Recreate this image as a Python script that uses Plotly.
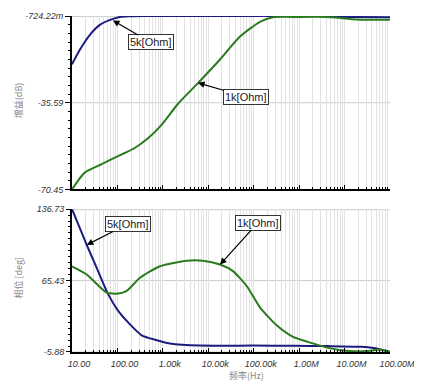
import plotly.graph_objects as go

# ---------------- data ----------------
freq_5k_gain = [10, 15, 25, 41, 69, 114, 190, 400, 1e3, 1e4, 1e5, 1e6, 3e6, 6e6, 1e7, 1e8]
gain_5k = [-20.1, -14.2, -8.2, -4.3, -2.3, -1.1, -0.85, -0.75, -0.73, -0.724, -0.724, -0.74, -0.76, -0.95, -1.1, -1.2]

freq_1k_gain = [10, 19, 44, 73, 145, 240, 471, 925, 2155, 5640, 18100, 49900, 137000, 265000,
                1e6, 4e6, 8e6, 1.5e7, 3e7, 1e8]
gain_1k = [-70.45, -63.7, -60.4, -58.4, -55.8, -53.8, -49.9, -44.6, -36.0, -28.1, -18.2, -9.0, -3.1, -1.24,
           -1.1, -1.1, -1.5, -2.0, -2.2, -2.2]

freq_5k_phase = [10, 21.1, 35, 62, 103, 189, 342, 672, 1436, 6560, 1e5, 7.3e5, 4.1e6, 2.2e7, 5.1e7, 1e8]
phase_5k = [136.73, 101, 78.1, 52.1, 35.4, 21.7, 10.8, 6.4, 2.7, 0.5, 0.5, 0.3, 0.0, -0.67, -2.3, -5.88]

freq_1k_phase = [10, 21.1, 58, 104.5, 160, 314, 865, 3350, 7650, 18100, 35000, 70000, 137000, 320000,
                 733000, 2.02e6, 4.1e6, 1.3e7, 3.1e7, 6.0e7, 1e8]
phase_1k = [79.7, 71.5, 53.4, 52.4, 55.1, 68.2, 79.7, 85.3, 85.3, 81.4, 74.8, 60, 38.7, 20.7,
            9.2, 2.7, -1.5, -5.0, -5.0, -3.5, -5.88]

x_tick_vals = [10, 100, 1e3, 1e4, 1e5, 1e6, 1e7, 1e8]
x_tick_text = ["10.00", "100.00", "1.00k", "10.00k", "100.00k", "1.00M", "10.00M", "100.00M"]

gain_tick_vals = [-70.45, -35.59, -0.72422]
gain_tick_text = ["-70.45", "-35.59", "-724.22m"]
phase_tick_vals = [-5.88, 65.43, 136.73]
phase_tick_text = ["-5.88", "65.43", "136.73"]

series_names = ["5k[Ohm]", "1k[Ohm]"]

# ---------------- style ----------------
BLUE = "#1c1c80"
GREEN = "#2a7a1e"
GRID = "#e2e2e2"
TICKFONT = dict(family="Liberation Sans, Arial, sans-serif", size=9, color="#333333", style="italic")

# page body has an 8px margin; figure is sized so it ends at the window edge
W, H = 414, 374
ML, MR, MT, MB = 64, 32, 3, 30
PW, PH = W - ML - MR, H - MT - MB


def px_x(px):  # window pixel -> paper x
    return (px - 8 - ML) / PW


def px_y(py):  # window pixel -> paper y
    return (H - MB - (py - 8)) / PH


x_minor = [m * 10 ** k for k in range(1, 8) for m in range(2, 10)]


def sub_ticks(lo, hi, n):
    return [lo + (hi - lo) * i / n for i in range(n + 1)]


fig = go.Figure()
fig.add_trace(go.Scatter(x=freq_5k_gain, y=gain_5k, mode="lines", line=dict(color=BLUE, width=2, shape="spline", smoothing=0.6),
                         xaxis="x", yaxis="y", name=series_names[0]))
fig.add_trace(go.Scatter(x=freq_1k_gain, y=gain_1k, mode="lines", line=dict(color=GREEN, width=2, shape="spline", smoothing=0.6),
                         xaxis="x", yaxis="y", name=series_names[1]))
fig.add_trace(go.Scatter(x=freq_5k_phase, y=phase_5k, mode="lines", line=dict(color=BLUE, width=2, shape="spline", smoothing=0.6),
                         xaxis="x2", yaxis="y2", name=series_names[0]))
fig.add_trace(go.Scatter(x=freq_1k_phase, y=phase_1k, mode="lines", line=dict(color=GREEN, width=2, shape="spline", smoothing=0.6),
                         xaxis="x2", yaxis="y2", name=series_names[1]))

xcommon = dict(type="log", range=[1, 8], showgrid=True, gridcolor=GRID, gridwidth=1,
               tickmode="array", tickvals=x_tick_vals, ticktext=x_tick_text,
               ticks="inside", ticklen=4, tickcolor="black", tickwidth=1,
               showline=True, linecolor="black", linewidth=2, zeroline=False,
               minor=dict(tickmode="array", tickvals=x_minor, ticks="inside", ticklen=2,
                          tickcolor="black", showgrid=True, gridcolor=GRID, gridwidth=1),
               tickfont=TICKFONT)

gain_major = sub_ticks(gain_tick_vals[0], gain_tick_vals[-1], 4)
gain_minor = sub_ticks(gain_tick_vals[0], gain_tick_vals[-1], 20)
phase_major = sub_ticks(phase_tick_vals[0], phase_tick_vals[-1], 12)
phase_minor = sub_ticks(phase_tick_vals[0], phase_tick_vals[-1], 24)

top_lo = px_y(187)
bot_hi = px_y(207)

fig.update_layout(
    width=W, height=H,
    margin=dict(l=ML, r=MR, t=MT, b=MB),
    paper_bgcolor="white", plot_bgcolor="white",
    showlegend=False,
    xaxis=dict(xcommon, domain=[0, 1], anchor="y", showticklabels=False),
    xaxis2=dict(xcommon, domain=[0, 1], anchor="y2", showticklabels=True, ticklabelshift=7, ticklabelstandoff=2),
    yaxis=dict(domain=[top_lo, 1], range=[gain_tick_vals[0], gain_tick_vals[-1]], anchor="x",
               tickmode="array", tickvals=gain_major,
               ticktext=[gain_tick_text[i // 2] if i % 2 == 0 else "" for i in range(5)],
               ticks="outside", ticklen=5, tickcolor="black", showgrid=False,
               showline=True, linecolor="black", linewidth=2, zeroline=False,
               minor=dict(tickmode="array", tickvals=gain_minor, ticks="outside", ticklen=2, tickcolor="black", showgrid=False),
               tickfont=TICKFONT),
    yaxis2=dict(domain=[0, bot_hi], range=[phase_tick_vals[0], phase_tick_vals[-1]], anchor="x2",
                tickmode="array", tickvals=phase_major,
                ticktext=[phase_tick_text[i // 6] if i % 6 == 0 else "" for i in range(13)],
                ticks="outside", ticklen=4, tickcolor="black", showgrid=False,
                showline=True, linecolor="black", linewidth=2, zeroline=False,
                minor=dict(tickmode="array", tickvals=phase_minor, ticks="outside", ticklen=2, tickcolor="black", showgrid=False),
                tickfont=TICKFONT),
)

# horizontal grid lines at labelled values
for v in gain_tick_vals:
    fig.add_shape(type="line", xref="x domain", x0=0, x1=1, yref="y", y0=v, y1=v,
                  line=dict(color="#cccccc", width=2 if v == gain_tick_vals[-1] else 1), layer="below")
for v in phase_tick_vals:
    fig.add_shape(type="line", xref="x2 domain", x0=0, x1=1, yref="y2", y0=v, y1=v,
                  line=dict(color="#cccccc", width=2 if v == phase_tick_vals[-1] else 1), layer="below")

ANN = dict(showarrow=True, arrowhead=2, arrowsize=1.1, arrowwidth=1.2, arrowcolor="black",
           font=dict(family="Liberation Sans, Arial, sans-serif", size=11, color="#222222"),
           bgcolor="white", bordercolor="#333333", borderwidth=1, borderpad=1)

fig.add_annotation(ANN, text=series_names[0], x=1.9, y=-2.5, xref="x", yref="y", ax=38, ay=22)
fig.add_annotation(ANN, text=series_names[1], x=3.773, y=-27.6, xref="x", yref="y", ax=48, ay=14)
fig.add_annotation(ANN, text=series_names[0], x=1.3236, y=101, xref="x2", yref="y2", ax=41, ay=-21)
fig.add_annotation(ANN, text=series_names[1], x=4.258, y=81.4, xref="x2", yref="y2", ax=38, ay=-42)

TITLEFONT = dict(family="Noto Sans CJK SC, Liberation Sans, sans-serif", size=9, color="#888888")
fig.add_annotation(text="增益(dB)", xref="paper", yref="paper", x=px_x(18.5), y=px_y(97),
                   textangle=-90, showarrow=False, font=TITLEFONT, xanchor="center", yanchor="middle")
fig.add_annotation(text="相位 [deg]", xref="paper", yref="paper", x=px_x(18.5), y=px_y(277),
                   textangle=-90, showarrow=False, font=TITLEFONT, xanchor="center", yanchor="middle")
fig.add_annotation(text="频率(Hz)", xref="paper", yref="paper", x=px_x(246), y=px_y(376),
                   showarrow=False, font=TITLEFONT, xanchor="center", yanchor="middle")

fig.write_html("out.html")
